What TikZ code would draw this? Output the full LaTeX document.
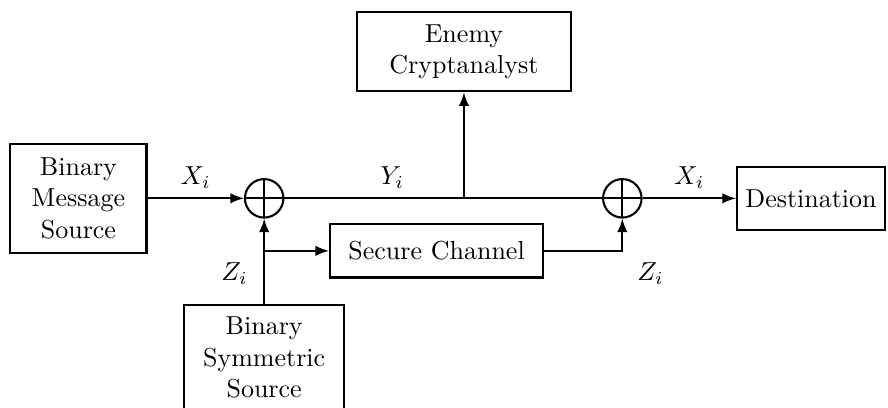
\documentclass[tikz,border=0pt]{standalone}
\usepackage{amsmath}
\usepackage{tikz}
\usetikzlibrary{positioning,arrows}

\tikzset{
  block/.style={draw, thick, align=center, inner sep=2pt},
  xor/.style={draw, thick, circle, minimum size=0.52cm, inner sep=0pt,
    path picture={\draw[thick] (path picture bounding box.north) -- (path picture bounding box.south)
      (path picture bounding box.west) -- (path picture bounding box.east);}},
  link/.style={thick, -latex}
}

\begin{document}
\begin{tikzpicture}
    \useasboundingbox (-3.57,-2.82) rectangle (8.43,2.68);
    % blocks
    \node[block, minimum width=1.84cm, minimum height=1.47cm] (msg) at (-2.51,0) {Binary\\Message\\Source};
    \node[xor] (add1) at (0,0) {};
    \node[xor] (add2) at (4.84,0) {};
    \node[block, minimum width=2.89cm, minimum height=1.07cm] (enemy) at (2.70,1.98) {Enemy\\Cryptanalyst};
    \node[block, minimum width=2.0cm, minimum height=0.85cm] (dest) at (7.39,0) {Destination};
    \node[block, minimum width=2.88cm, minimum height=0.72cm] (chan) at (2.33,-0.71) {Secure Channel};
    \node[block, minimum width=2.16cm, minimum height=1.41cm] (key) at (0,-2.15) {Binary\\Symmetric\\Source};
    % connectors
    \coordinate (tap) at (enemy.south |- add1);
    \coordinate (split) at (add1 |- chan);
    \draw[link] (msg) -- node[above]{$X_i$} (add1);
    \draw[thick] (add1) -- node[above, pos=0.6]{$Y_i$} (tap) -- (add2);
    \draw[link] (tap) -- (enemy.south);
    \draw[link] (add2) -- node[above]{$X_i$} (dest);
    \draw[link] (key) -- (add1);
    \draw[link] (split) -- (chan);
    \draw[link] (chan) -| (add2);
    \node (zl) at (-0.40,-1.02) {$Z_i$};
    \node (zr) at (5.22,-1.02) {$Z_i$};
\end{tikzpicture}
\end{document}
